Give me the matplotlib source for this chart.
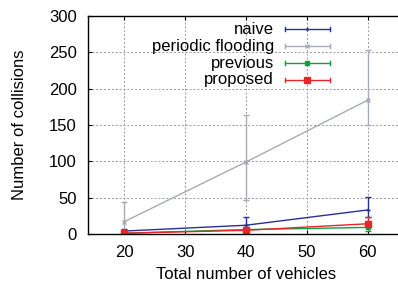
import matplotlib.pyplot as plt
import numpy as np

plt.rcParams["font.family"] = ["Liberation Sans", "DejaVu Sans"]

vehicles = [20, 40, 60]
series = ["naive", "periodic flooding", "previous", "proposed"]
means = {
    "naive": [4, 12, 33],
    "periodic flooding": [17, 99, 184],
    "previous": [1, 6, 9],
    "proposed": [1, 5, 14],
}
err_low = {
    "naive": [2, 6, 10],
    "periodic flooding": [15, 52, 34],
    "previous": [1, 3, 5],
    "proposed": [1, 3, 5],
}
err_high = {
    "naive": [3, 11, 18],
    "periodic flooding": [27, 65, 69],
    "previous": [2, 4, 6],
    "proposed": [2, 5, 10],
}
colors = {
    "naive": "#2a2f96",
    "periodic flooding": "#a5abb8",
    "previous": "#10a040",
    "proposed": "#e8252a",
}
markers = {"naive": "+", "periodic flooding": "x", "previous": "s", "proposed": "s"}
msizes = {"naive": 3, "periodic flooding": 3, "previous": 2.5, "proposed": 4}

fig = plt.figure(figsize=(3.98, 2.86), dpi=100)
ax = fig.add_axes([0.221, 0.182, 0.794, 0.762])

for name in series:
    ax.errorbar(vehicles, means[name],
                yerr=[err_low[name], err_high[name]],
                color=colors[name], lw=1.0, elinewidth=1.0, capsize=2,
                marker=markers[name], ms=msizes[name], label=name)

ax.set_xlim(14, 66)
ax.set_ylim(0, 300)
ax.set_xticks([20, 30, 40, 50, 60])
ax.set_yticks(np.arange(0, 301, 50))
ax.grid(True, color="#999999", ls=(0, (2, 2)), lw=0.7)
ax.tick_params(direction="in", length=3, labelsize=12, top=True, right=False)
ax.tick_params(axis="x", pad=8)
ax.tick_params(axis="y", pad=8)
for sp in ax.spines.values():
    sp.set_linewidth(1.0)
ax.spines["right"].set_visible(False)

ax.set_xlabel("Total number of vehicles", fontsize=12, labelpad=5)
ax.set_ylabel("Number of collisions", fontsize=12, labelpad=16)

# gnuplot-style key: right-aligned text, then a short errorbar sample
text_x = (274 - 88) / 316
line_x0, line_x1 = (285 - 88) / 316, (330 - 88) / 316
for i, name in enumerate(series):
    yk = (234 - (29 + 17 * i)) / 218
    ax.text(text_x, yk, name, transform=ax.transAxes, ha="right",
            va="center", fontsize=12)
    ax.plot([line_x0, line_x1], [yk, yk], transform=ax.transAxes,
            color=colors[name], lw=1.0, clip_on=False)
    ax.plot([(line_x0 + line_x1) / 2], [yk], transform=ax.transAxes,
            color=colors[name], marker=markers[name], ms=msizes[name],
            clip_on=False)
    for xe in (line_x0, line_x1):
        ax.plot([xe, xe], [yk - 0.01, yk + 0.01], transform=ax.transAxes,
                color=colors[name], lw=1.0, clip_on=False)

fig.savefig("out.png", dpi=100)
